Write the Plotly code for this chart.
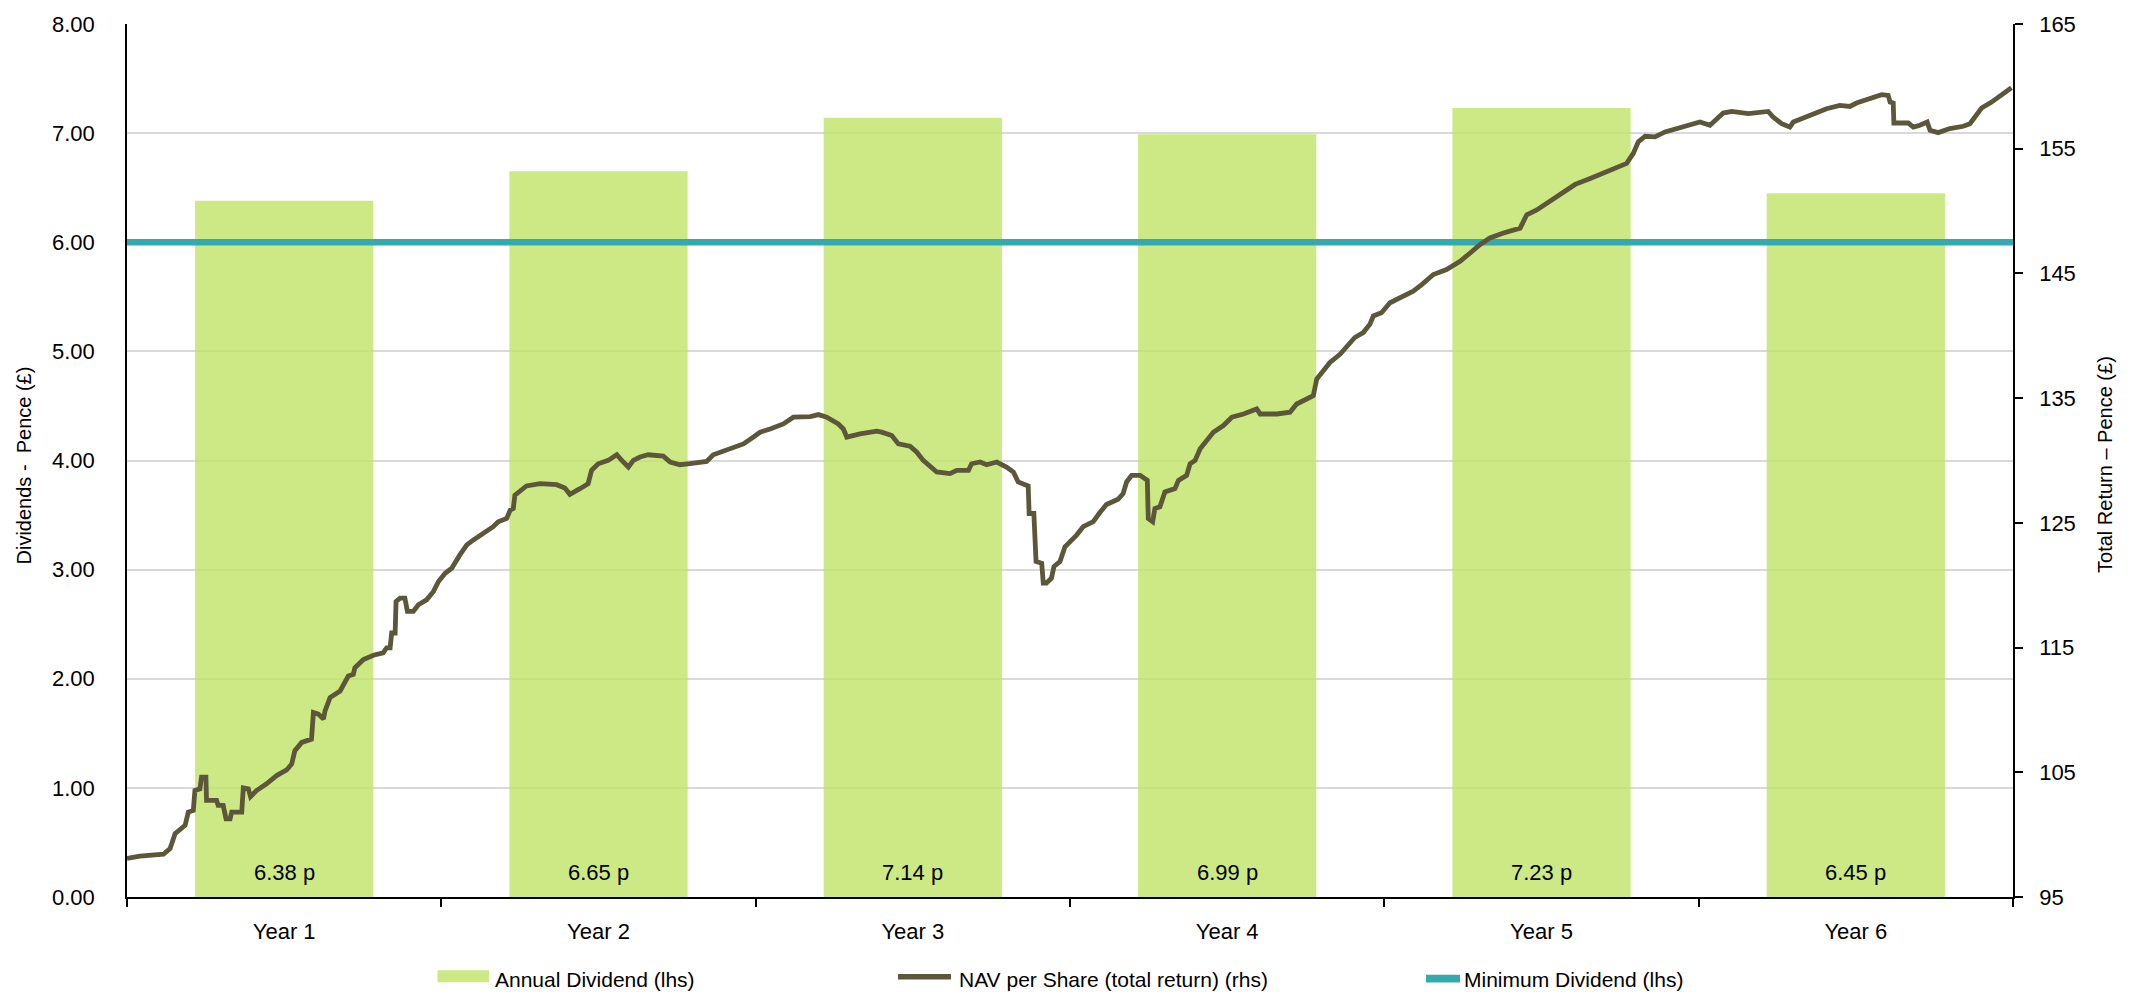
import plotly.graph_objects as go

# Annual dividends (left axis, pence)
years = ["Year 1", "Year 2", "Year 3", "Year 4", "Year 5", "Year 6"]
annual_dividend = [6.38, 6.65, 7.14, 6.99, 7.23, 6.45]
minimum_dividend = 6.00

# NAV per share, total return (right axis, pence); time in years since launch
nav_years = [
    0.000, 0.041, 0.116, 0.137, 0.153, 0.185, 0.195, 0.211, 0.216, 0.232,
    0.237, 0.251, 0.253, 0.285, 0.290, 0.306, 0.315, 0.328, 0.333, 0.365,
    0.370, 0.386, 0.393, 0.412, 0.444, 0.476, 0.508, 0.524, 0.534, 0.556,
    0.587, 0.593, 0.609, 0.625, 0.630, 0.646, 0.678, 0.704, 0.720, 0.725,
    0.752, 0.784, 0.815, 0.826, 0.837, 0.842, 0.853, 0.856, 0.869, 0.884,
    0.892, 0.911, 0.927, 0.953, 0.975, 0.991, 1.012, 1.033, 1.059,
    1.081, 1.102, 1.134, 1.165, 1.181, 1.208, 1.219, 1.229, 1.234, 1.271,
    1.314, 1.367, 1.393, 1.409, 1.441, 1.467, 1.478, 1.499, 1.531, 1.558,
    1.574, 1.595, 1.611, 1.632, 1.658, 1.706, 1.728, 1.759, 1.791, 1.844,
    1.865, 1.908, 1.961, 1.992, 2.014, 2.046,
    2.088, 2.120, 2.174, 2.200, 2.226, 2.263, 2.279, 2.290, 2.332, 2.385,
    2.401, 2.433, 2.454, 2.491, 2.512, 2.533, 2.560, 2.576, 2.618, 2.640,
    2.677, 2.687, 2.714, 2.735, 2.767, 2.798, 2.820, 2.835, 2.867, 2.870,
    2.885, 2.892, 2.910, 2.915, 2.925, 2.941, 2.949, 2.968, 2.984, 3.000,
    3.021, 3.042, 3.074, 3.095, 3.116, 3.153, 3.169, 3.180, 3.196, 3.223,
    3.246, 3.249, 3.263, 3.270, 3.286, 3.302, 3.334, 3.345, 3.371, 3.382,
    3.398, 3.414, 3.435, 3.456, 3.488, 3.515, 3.552, 3.594, 3.605, 3.658,
    3.700, 3.721, 3.753, 3.774, 3.785, 3.806, 3.827, 3.859, 3.880, 3.906,
    3.933, 3.954, 3.965, 3.991, 4.018, 4.060, 4.092, 4.119, 4.156, 4.198,
    4.241, 4.273, 4.304, 4.336, 4.379, 4.432, 4.453, 4.485, 4.527, 4.570,
    4.607, 4.655, 4.697, 4.739, 4.771, 4.792, 4.808, 4.830, 4.861, 4.893,
    4.930, 4.962, 5.004, 5.036, 5.057, 5.078, 5.105, 5.158, 5.221, 5.237,
    5.264, 5.290, 5.301, 5.354, 5.407, 5.449, 5.481, 5.502, 5.545, 5.582,
    5.603, 5.609, 5.619, 5.621, 5.667, 5.683, 5.704, 5.727, 5.736, 5.762,
    5.799, 5.842, 5.863, 5.879, 5.900, 5.932, 5.964, 5.995,
]
nav_total_return = [
    98.09, 98.27, 98.43, 98.89, 100.08, 100.75, 101.81, 101.94, 103.54, 103.67,
    104.60, 104.60, 102.74, 102.74, 102.34, 102.34, 101.27, 101.27, 101.81, 101.81,
    103.75, 103.67, 103.05, 103.54, 104.07, 104.74, 105.19, 105.67, 106.73, 107.40,
    107.66, 109.79, 109.66, 109.26, 109.93, 110.99, 111.52, 112.72, 112.85, 113.38,
    114.05, 114.39, 114.58, 114.97, 114.97, 116.17, 116.17, 118.70, 118.97, 118.97,
    117.91, 117.91, 118.43, 118.83, 119.50, 120.30, 120.96, 121.36, 122.43,
    123.23, 123.63, 124.16, 124.69, 125.09, 125.35, 126.02, 126.15, 127.22, 127.96,
    128.15, 128.06, 127.80, 127.29, 127.74, 128.14, 129.21, 129.74, 130.01, 130.46,
    130.01, 129.48, 130.01, 130.28, 130.46, 130.35, 129.88, 129.66, 129.74, 129.93,
    130.46, 130.88, 131.33, 131.87, 132.27, 132.53,
    132.93, 133.47, 133.52, 133.68, 133.47, 132.93, 132.53, 131.87, 132.13, 132.35,
    132.27, 132.00, 131.33, 131.15, 130.68, 130.01, 129.48, 129.08, 128.95, 129.21,
    129.21, 129.74, 129.88, 129.66, 129.88, 129.48, 129.08, 128.28, 127.96, 125.75,
    125.75, 121.90, 121.76, 120.17, 120.17, 120.56, 121.50, 121.90, 123.09, 123.49,
    124.02, 124.69, 125.09, 125.83, 126.47, 126.89, 127.34, 128.28, 128.81, 128.81,
    128.41, 125.35, 125.09, 126.15, 126.29, 127.48, 127.75, 128.41, 128.81, 129.74,
    130.01, 130.94, 131.61, 132.27, 132.80, 133.47, 133.73, 134.13, 133.73, 133.73,
    133.87, 134.53, 134.93, 135.20, 136.53, 137.19, 137.86, 138.52, 139.06, 139.86,
    140.26, 140.92, 141.59, 141.85, 142.65, 143.18, 143.58, 144.11, 144.91, 145.31,
    145.97, 146.64, 147.30, 147.84, 148.24, 148.63, 149.70, 150.09, 150.76, 151.56,
    152.14, 152.62, 153.02, 153.42, 153.82, 154.62, 155.55, 156.00, 155.95, 156.35,
    156.62, 156.88, 157.15, 156.88, 157.41, 157.86, 157.99, 157.81, 157.99, 157.54,
    157.01, 156.74, 157.14, 157.67, 158.21, 158.47, 158.39, 158.66, 159.01, 159.33,
    159.27, 158.74, 158.66, 157.06, 157.06, 156.74, 156.88, 157.14, 156.48, 156.29,
    156.62, 156.80, 157.01, 157.54, 158.26, 158.74, 159.27, 159.89,
]

left_ticks = [0, 1, 2, 3, 4, 5, 6, 7, 8]
right_ticks = [95, 105, 115, 125, 135, 145, 155, 165]

FONT = "Liberation Sans, Arial, sans-serif"
BAR_COLOR = "rgba(193, 228, 103, 0.8)"
BAR_SWATCH = "#CDE985"
NAV_COLOR = "#5C573A"
MIN_COLOR = "#36A9AE"

# Pixel geometry of the plotting area
W, H = 2134, 992
L, R, T, B = 127, 121, 20, 95
PW, PH = W - L - R, H - T - B


def px(x):
    return (x - L) / PW


def py(y):
    return (H - B - y) / PH


cat_x = list(range(len(years)))
nav_x = [t - 0.5 for t in nav_years]

fig = go.Figure()

fig.add_trace(go.Bar(
    x=cat_x, y=annual_dividend, width=0.567,
    marker=dict(color=BAR_COLOR, line=dict(width=0)),
    name="Annual Dividend (lhs)", showlegend=False, yaxis="y",
))

fig.add_trace(go.Scatter(
    x=[-0.5, len(years) - 0.5], y=[minimum_dividend, minimum_dividend],
    mode="lines", line=dict(color=MIN_COLOR, width=6.5),
    name="Minimum Dividend (lhs)", showlegend=False, yaxis="y",
))

fig.add_trace(go.Scatter(
    x=nav_x, y=nav_total_return, mode="lines",
    line=dict(color=NAV_COLOR, width=4.8),
    name="NAV per Share (total return) (rhs)", showlegend=False, yaxis="y2",
))

annotations = []
# Dividend value labels near the base of each bar
for i, v in enumerate(annual_dividend):
    annotations.append(dict(
        x=i, y=0, xref="x", yref="y", text=f"{v:.2f} p", showarrow=False,
        yanchor="middle", yshift=25, font=dict(size=22, color="black", family=FONT),
    ))

# Axis titles
annotations.append(dict(
    x=px(23.5), y=py(464), xref="paper", yref="paper", text="Dividends -  Pence (£)",
    textangle=-90, showarrow=False, xanchor="center", yanchor="middle",
    font=dict(size=20, color="black", family=FONT),
))
annotations.append(dict(
    x=px(2105), y=py(463), xref="paper", yref="paper", text="Total Return – Pence (£)",
    textangle=-90, showarrow=False, xanchor="center", yanchor="middle",
    font=dict(size=20, color="black", family=FONT),
))

# Legend entries
legend_items = [
    ("Annual Dividend (lhs)", 493),
    ("NAV per Share (total return) (rhs)", 957),
    ("Minimum Dividend (lhs)", 1462),
]
for label, x0 in legend_items:
    annotations.append(dict(
        x=px(x0), y=py(980), xref="paper", yref="paper", text=label, showarrow=False,
        xanchor="left", yanchor="middle", font=dict(size=21, color="black", family=FONT),
    ))

shapes = [
    dict(type="rect", xref="paper", yref="paper", x0=px(437.5), x1=px(489),
         y0=py(982.7), y1=py(970.7), fillcolor=BAR_SWATCH, line=dict(width=0)),
    dict(type="line", xref="paper", yref="paper", x0=px(898), x1=px(951),
         y0=py(977), y1=py(977), line=dict(color=NAV_COLOR, width=5.5)),
    dict(type="rect", xref="paper", yref="paper", x0=px(1426), x1=px(1460),
         y0=py(983), y1=py(975), fillcolor=MIN_COLOR, line=dict(width=0)),
]

fig.update_layout(
    width=W, height=H,
    margin=dict(l=L, r=R, t=T, b=B, pad=0),
    paper_bgcolor="white", plot_bgcolor="white",
    font=dict(family=FONT, size=22, color="black"),
    bargap=0.43,
    showlegend=False,
    annotations=annotations,
    shapes=shapes,
    xaxis=dict(
        range=[-0.5, len(years) - 0.5], tickmode="array", tickvals=cat_x, ticktext=years,
        ticks="", showgrid=False, zeroline=False,
        showline=True, linecolor="black", linewidth=2,
        minor=dict(tick0=-0.5, dtick=1, ticks="outside", ticklen=8,
                   tickcolor="black", tickwidth=1.5, showgrid=False),
        ticklabelstandoff=14, tickfont=dict(size=22),
    ),
    yaxis=dict(
        range=[0, 8], tickmode="array", tickvals=left_ticks, tickformat=".2f",
        ticks="", showgrid=True, gridcolor="#D9D9D9", gridwidth=1.5, zeroline=False,
        showline=True, linecolor="black", linewidth=1.5,
        ticklabelstandoff=26, tickfont=dict(size=22),
    ),
    yaxis2=dict(
        range=[95, 165], overlaying="y", side="right", tickmode="array",
        tickvals=right_ticks, ticks="outside", ticklen=8, tickcolor="black", tickwidth=1.5,
        showgrid=False, zeroline=False, showline=True, linecolor="black", linewidth=1.5,
        ticklabelstandoff=12, tickfont=dict(size=22),
    ),
)

fig.write_html("out.html")
